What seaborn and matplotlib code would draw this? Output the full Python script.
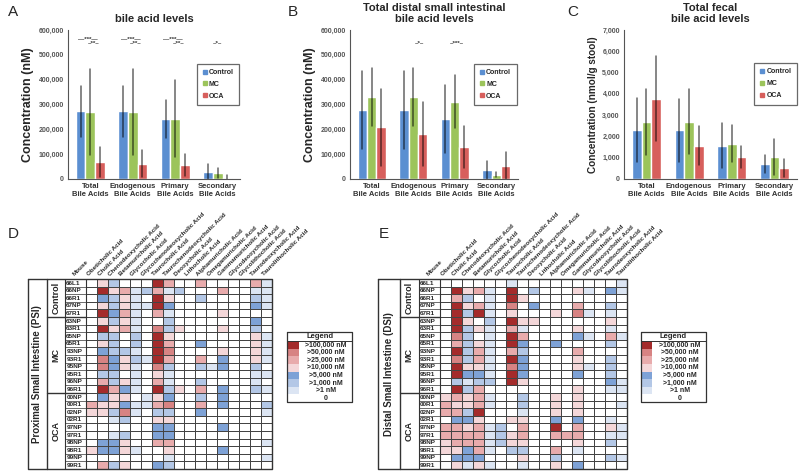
import numpy as np
import pandas as pd
import matplotlib
matplotlib.use("Agg")
import matplotlib.pyplot as plt
from matplotlib.colors import ListedColormap
from matplotlib.ticker import FuncFormatter
from matplotlib.lines import Line2D
import seaborn as sns

sns.set_style("white")
plt.rcParams["font.family"] = ["Liberation Sans", "DejaVu Sans"]
plt.rcParams["font.weight"] = "bold"

# ---- bar chart data ----
categories = ["Total\nBile Acids", "Endogenous\nBile Acids", "Primary\nBile Acids", "Secondary\nBile Acids"]
groups = ["Control", "MC", "OCA"]
bar_colors = ["#5B8FD1", "#9CC45B", "#D75F5C"]

# A: proximal small intestine (nM)
psi_control = [272000, 272000, 242000, 28000]
psi_mc = [270000, 270000, 243000, 25000]
psi_oca = [68000, 62000, 55000, 5000]
psi_control_sd = [103000, 103000, 75000, 32000]
psi_mc_sd = [174000, 174000, 156000, 20000]
psi_oca_sd = [62000, 53000, 45000, 13000]

# B: distal small intestine (nM)
dsi_control = [277000, 277000, 240000, 35000]
dsi_mc = [330000, 330000, 312000, 18000]
dsi_oca = [208000, 183000, 128000, 52000]
dsi_control_sd = [157000, 157000, 137000, 37000]
dsi_mc_sd = [116000, 116000, 108000, 10000]
dsi_oca_sd = [154000, 129000, 84000, 55000]

# C: feces (nmol/g stool)
fecal_control = [2300, 2290, 1570, 710]
fecal_mc = [2700, 2700, 1660, 1030]
fecal_oca = [3780, 1560, 1030, 510]
fecal_control_sd = [1490, 1470, 1050, 430]
fecal_mc_sd = [1550, 1530, 875, 855]
fecal_oca_sd = [2000, 910, 520, 440]

# ---- heatmap data ----
acids = ["Obeticholic Acid", "Cholic Acid", "Chenodeoxycholic Acid", "Betamuricholic Acid",
         "Glycocholic Acid", "Glycochenodeoxycholic Acid", "Taurocholic Acid",
         "Taurochenodeoxycholic Acid", "Deoxycholic Acid", "Lithocholic Acid",
         "Alphamuricholic Acid", "Omegamuricholic Acid", "Gammamuricholic Acid",
         "Glycodeoxycholic Acid", "Glycolithocholic Acid", "Taurodeoxycholic Acid",
         "Taurolithocholic Acid"]
mice = ["66L1", "66NP", "66R1", "67NP", "67R1",
        "63NP", "63R1", "65NP", "65R1", "93NP", "93R1", "95NP", "95R1", "96NP", "96R1",
        "00NP", "00R1", "02NP", "02R1", "97NP", "97R1", "98NP", "98R1", "99NP", "99R1"]
mouse_groups = ["Control", "MC", "OCA"]
group_sizes = [5, 10, 10]
level_labels = [">100,000 nM", ">50,000 nM", ">25,000 nM", ">10,000 nM",
                ">5,000 nM", ">1,000 nM", ">1 nM", "0"]
# 0 = 0, 1 = >1, 2 = >1,000, 3 = >5,000, 4 = >10,000, 5 = >25,000, 6 = >50,000, 7 = >100,000
level_colors = ["#FFFFFF", "#DCE5F3", "#B3C7E6", "#7EA2D6",
                "#F4D7D9", "#E8ABAC", "#D78383", "#A42B2B"]

psi_levels = [
    [0, 4, 2, 0, 0, 0, 7, 5, 0, 0, 5, 0, 0, 0, 0, 5, 1],
    [0, 7, 4, 5, 1, 2, 5, 1, 2, 0, 0, 0, 5, 0, 0, 1, 1],
    [0, 3, 2, 4, 1, 0, 7, 4, 0, 0, 2, 0, 0, 0, 0, 2, 1],
    [0, 4, 2, 4, 1, 1, 7, 3, 0, 0, 0, 0, 0, 0, 0, 3, 1],
    [0, 7, 3, 5, 1, 0, 5, 1, 0, 0, 0, 0, 4, 0, 0, 0, 0],
    [0, 4, 2, 4, 1, 0, 0, 2, 0, 0, 0, 0, 0, 0, 0, 3, 0],
    [0, 7, 4, 5, 1, 0, 6, 2, 4, 0, 0, 0, 4, 0, 0, 2, 0],
    [0, 2, 2, 0, 2, 0, 7, 4, 0, 0, 0, 0, 0, 0, 0, 4, 1],
    [0, 4, 2, 0, 2, 0, 7, 5, 0, 0, 3, 0, 0, 0, 0, 4, 1],
    [0, 3, 2, 2, 1, 0, 7, 6, 0, 0, 0, 0, 4, 0, 0, 4, 1],
    [0, 6, 3, 4, 2, 1, 7, 5, 0, 0, 5, 0, 3, 0, 0, 4, 1],
    [0, 6, 3, 4, 1, 0, 6, 2, 0, 0, 2, 1, 3, 0, 0, 2, 0],
    [0, 2, 2, 0, 1, 0, 4, 1, 0, 0, 0, 0, 0, 0, 0, 1, 1],
    [0, 5, 2, 4, 1, 0, 5, 1, 0, 0, 2, 0, 0, 0, 0, 1, 0],
    [0, 7, 5, 3, 1, 0, 7, 2, 4, 0, 5, 0, 3, 0, 0, 2, 1],
    [0, 3, 4, 4, 0, 1, 4, 3, 0, 0, 2, 0, 3, 0, 0, 0, 0],
    [5, 4, 4, 3, 1, 1, 5, 6, 0, 0, 5, 0, 3, 0, 0, 0, 2],
    [4, 4, 2, 6, 1, 0, 2, 2, 0, 0, 3, 0, 0, 0, 0, 0, 1],
    [0, 0, 1, 2, 0, 0, 4, 4, 0, 0, 0, 0, 0, 0, 0, 0, 0],
    [0, 0, 0, 0, 0, 0, 3, 3, 0, 0, 0, 0, 3, 0, 0, 0, 0],
    [0, 0, 1, 2, 0, 0, 3, 3, 0, 0, 0, 0, 0, 0, 0, 0, 0],
    [0, 3, 3, 4, 0, 0, 5, 5, 0, 0, 0, 0, 0, 0, 0, 0, 1],
    [4, 3, 3, 4, 1, 0, 0, 4, 0, 0, 0, 0, 3, 0, 0, 0, 0],
    [0, 0, 0, 0, 0, 0, 0, 1, 0, 0, 0, 0, 0, 0, 0, 0, 1],
    [0, 5, 2, 4, 0, 0, 3, 2, 0, 0, 0, 0, 0, 0, 0, 0, 0],
]

dsi_levels = [
    [0, 0, 0, 0, 0, 0, 1, 0, 0, 0, 0, 0, 0, 0, 0, 0, 1],
    [0, 7, 4, 5, 1, 0, 7, 0, 2, 0, 0, 0, 4, 1, 0, 3, 1],
    [0, 5, 2, 0, 1, 0, 7, 4, 0, 0, 0, 0, 0, 0, 0, 0, 0],
    [0, 7, 4, 5, 1, 0, 6, 0, 3, 0, 0, 0, 5, 0, 0, 2, 0],
    [0, 7, 2, 7, 1, 0, 4, 0, 0, 0, 4, 0, 6, 1, 0, 1, 0],
    [0, 7, 4, 0, 2, 0, 7, 4, 4, 0, 0, 0, 0, 0, 0, 4, 0],
    [0, 7, 2, 4, 1, 0, 5, 1, 0, 0, 0, 0, 4, 0, 0, 1, 0],
    [0, 6, 2, 0, 1, 0, 7, 5, 0, 0, 0, 0, 3, 1, 0, 5, 1],
    [0, 5, 2, 4, 1, 0, 7, 3, 0, 0, 3, 0, 0, 0, 0, 2, 0],
    [0, 7, 2, 5, 1, 0, 5, 2, 0, 0, 0, 0, 5, 0, 0, 0, 0],
    [0, 6, 2, 5, 1, 0, 7, 3, 0, 0, 0, 0, 4, 0, 0, 2, 0],
    [0, 7, 4, 4, 1, 0, 6, 3, 0, 0, 0, 0, 4, 1, 0, 2, 0],
    [0, 7, 3, 3, 1, 0, 7, 3, 0, 0, 0, 0, 3, 0, 0, 2, 0],
    [0, 2, 1, 2, 2, 0, 7, 4, 0, 0, 0, 0, 0, 0, 0, 3, 1],
    [0, 7, 2, 5, 0, 0, 0, 0, 0, 0, 0, 0, 4, 0, 0, 1, 1],
    [4, 5, 4, 5, 1, 0, 0, 2, 0, 0, 4, 0, 4, 0, 0, 0, 0],
    [5, 4, 4, 5, 1, 0, 0, 2, 0, 0, 4, 0, 4, 0, 0, 0, 1],
    [5, 5, 2, 7, 0, 0, 0, 1, 0, 0, 4, 0, 4, 0, 0, 0, 0],
    [0, 3, 3, 4, 0, 0, 4, 4, 0, 0, 3, 0, 3, 0, 0, 1, 0],
    [5, 5, 4, 5, 1, 2, 0, 5, 0, 0, 7, 0, 5, 0, 0, 4, 1],
    [5, 5, 5, 5, 1, 2, 4, 5, 0, 0, 5, 5, 5, 0, 0, 1, 1],
    [4, 5, 5, 5, 1, 2, 4, 4, 0, 0, 0, 0, 4, 0, 0, 2, 0],
    [4, 4, 3, 5, 1, 0, 2, 2, 0, 0, 5, 0, 1, 0, 0, 0, 0],
    [0, 3, 3, 3, 0, 0, 0, 4, 0, 0, 2, 0, 0, 0, 0, 2, 1],
    [0, 4, 1, 4, 1, 0, 0, 1, 0, 0, 4, 0, 3, 0, 0, 0, 0],
]


def bar_panel(ax, means, sds, title, ylabel, ylabel_size, ymax, step, legend_xy, stars):
    df = pd.DataFrame({
        "Category": categories * 3,
        "Group": np.repeat(groups, len(categories)),
        "Value": np.concatenate(means),
    })
    sns.barplot(data=df, x="Category", y="Value", hue="Group", palette=bar_colors,
                width=0.68, errorbar=None, saturation=1, ax=ax)
    # error bars (mean +/- sd) drawn at each bar centre
    for cont, sd in zip(ax.containers, sds):
        for bar, s in zip(cont, sd):
            xc = bar.get_x() + bar.get_width() / 2
            h = bar.get_height()
            ax.plot([xc, xc], [max(h - s, 0), h + s], color="black", lw=1.1, alpha=0.6)
    ax.set_ylim(0, ymax)
    ax.set_yticks(np.arange(0, ymax + 1, step))
    ax.yaxis.set_major_formatter(FuncFormatter(lambda v, p: f"{v:,.0f}"))
    ax.tick_params(axis="y", labelsize=5, colors="#555555", length=2, width=0.6, pad=1)
    ax.tick_params(axis="x", labelsize=5.5, length=0, pad=3)
    for lab in ax.get_xticklabels():
        lab.set_fontweight("bold")
        lab.set_color("#333333")
    for lab in ax.get_yticklabels():
        lab.set_fontweight("bold")
    ax.set_xlabel("")
    ax.set_ylabel(ylabel, fontsize=ylabel_size, fontweight="bold", labelpad=3)
    ax.set_title(title, fontsize=8, fontweight="bold", pad=6, linespacing=1.1)
    sns.despine(ax=ax)
    ax.spines["left"].set_color("#555555")
    ax.spines["bottom"].set_color("#555555")
    ax.spines["left"].set_linewidth(0.8)
    ax.spines["bottom"].set_linewidth(0.8)
    handles = [Line2D([], [], marker="s", ls="", color=c, markersize=3) for c in bar_colors]
    leg = ax.legend(handles, groups, loc="upper left", bbox_to_anchor=legend_xy,
                    fontsize=5, frameon=True, fancybox=False, handletextpad=0.2,
                    borderpad=0.8, labelspacing=0.7, handlelength=0.7, borderaxespad=0)
    leg.get_frame().set_edgecolor("#444444")
    leg.get_frame().set_linewidth(0.9)
    for t in leg.get_texts():
        t.set_fontweight("bold")
    for xs, ys, txt in stars:
        ax.text(xs, ys, txt, fontsize=4.5, ha="center", va="center", color="#333333")


def heat_panel(fig, rect, levels, region_label, id_w, grp_w, out_w):
    ax = fig.add_axes(rect)
    sns.heatmap(np.array(levels), cmap=ListedColormap(level_colors), vmin=-0.5, vmax=7.5,
                cbar=False, linewidths=0.5, linecolor="#444444",
                xticklabels=False, yticklabels=False, ax=ax)
    nrow, ncol = len(mice), len(acids)
    x_id = -id_w
    x_grp = x_id - grp_w
    x_out = x_grp - out_w
    kw = dict(color="#333333", clip_on=False)
    # outer frame and column separators
    ax.plot([x_out, ncol, ncol, x_out, x_out], [0, 0, nrow, nrow, 0], lw=1.0, **kw)
    ax.plot([x_grp, x_grp], [0, nrow], lw=1.0, **kw)
    ax.plot([x_id, x_id], [0, nrow], lw=0.8, **kw)
    ax.plot([0, 0], [0, nrow], lw=0.8, **kw)
    for i in range(1, nrow):
        ax.plot([x_id, 0], [i, i], lw=0.5, **kw)
    start = 0
    for g, n in zip(mouse_groups, group_sizes):
        ax.text((x_grp + x_id) / 2, start + n / 2, g, rotation=90, ha="center", va="center",
                fontsize=6.5, fontweight="bold", clip_on=False)
        start += n
        if start < nrow:
            ax.plot([x_grp, 0], [start, start], lw=1.0, **kw)
    ax.text((x_out + x_grp) / 2, nrow / 2, region_label, rotation=90, ha="center", va="center",
            fontsize=7, fontweight="bold", clip_on=False)
    for i, m in enumerate(mice):
        ax.text(x_id + 0.12, i + 0.55, m, ha="left", va="center", fontsize=4.6,
                fontweight="bold", clip_on=False)
    ax.text(x_id / 2, -0.3, "Mouse", rotation=45, ha="left", va="bottom",
            rotation_mode="anchor", fontsize=4.5, fontweight="bold", clip_on=False)
    for j, a in enumerate(acids):
        ax.text(j + 0.3, -0.3, a, rotation=45, ha="left", va="bottom",
                rotation_mode="anchor", fontsize=4.5, fontweight="bold", clip_on=False)
    return ax


def heat_legend(fig, rect):
    ax = fig.add_axes(rect)
    ax.set_xlim(0, 1)
    ax.set_ylim(len(level_labels) + 1.2, 0)
    ax.axis("off")
    ax.plot([0, 1, 1, 0, 0], [0, 0, len(level_labels) + 1.2, len(level_labels) + 1.2, 0],
            color="#333333", lw=0.9, clip_on=False)
    ax.plot([0, 1], [1.2, 1.2], color="#333333", lw=0.7)
    ax.text(0.5, 0.6, "Legend", ha="center", va="center", fontsize=5.5, fontweight="bold")
    for k, lab in enumerate(level_labels):
        lev = len(level_labels) - 1 - k
        y0 = 1.2 + k
        ax.fill_between([0, 0.18], y0, y0 + 1, color=level_colors[lev], lw=0)
        ax.text(0.6, y0 + 0.5, lab, ha="center", va="center", fontsize=5, fontweight="bold")


fig = plt.figure(figsize=(8, 4.73), dpi=100)

axA = fig.add_axes([0.085, 0.6216, 0.215, 0.315])
bar_panel(axA, [psi_control, psi_mc, psi_oca], [psi_control_sd, psi_mc_sd, psi_oca_sd],
          "bile acid levels", "Concentration (nM)", 9, 600000, 100000, (0.75, 0.775),
          [(-0.05, 565000, "—***—"), (0.08, 548000, "–**–"),
           (0.95, 565000, "—***—"), (1.08, 548000, "–**–"),
           (1.95, 565000, "—***—"), (2.08, 548000, "–**–"),
           (3.0, 548000, "–*–")])

axB = fig.add_axes([0.4375, 0.6216, 0.21, 0.315])
bar_panel(axB, [dsi_control, dsi_mc, dsi_oca], [dsi_control_sd, dsi_mc_sd, dsi_oca_sd],
          "Total distal small intestinal\nbile acid levels", "Concentration (nM)", 9,
          600000, 100000, (0.74, 0.775),
          [(1.15, 550000, "–*–"), (2.05, 550000, "–***–")])

axC = fig.add_axes([0.78, 0.6216, 0.216, 0.315])
bar_panel(axC, [fecal_control, fecal_mc, fecal_oca], [fecal_control_sd, fecal_mc_sd, fecal_oca_sd],
          "Total fecal\nbile acid levels", "Concentration (nmol/g stool)", 7.2,
          7000, 1000, (0.755, 0.78), [])

heat_panel(fig, [0.1075, 0.0085, 0.2325, 0.4017], psi_levels,
           "Proximal Small Intestine (PSI)", 1.92, 1.65, 1.74)
heat_legend(fig, [0.359, 0.150, 0.081, 0.148])

heat_panel(fig, [0.55, 0.0085, 0.234, 0.4017], dsi_levels,
           "Distal Small Intestine (DSI)", 1.92, 1.75, 2.0)
heat_legend(fig, [0.801, 0.150, 0.081, 0.148])

for lab, x, y in [("A", 0.01, 0.99), ("B", 0.36, 0.99), ("C", 0.709, 0.99),
                  ("D", 0.01, 0.52), ("E", 0.474, 0.52)]:
    fig.text(x, y, lab, fontsize=11, fontweight="normal", ha="left", va="top")

fig.savefig("out.png", dpi=100)
